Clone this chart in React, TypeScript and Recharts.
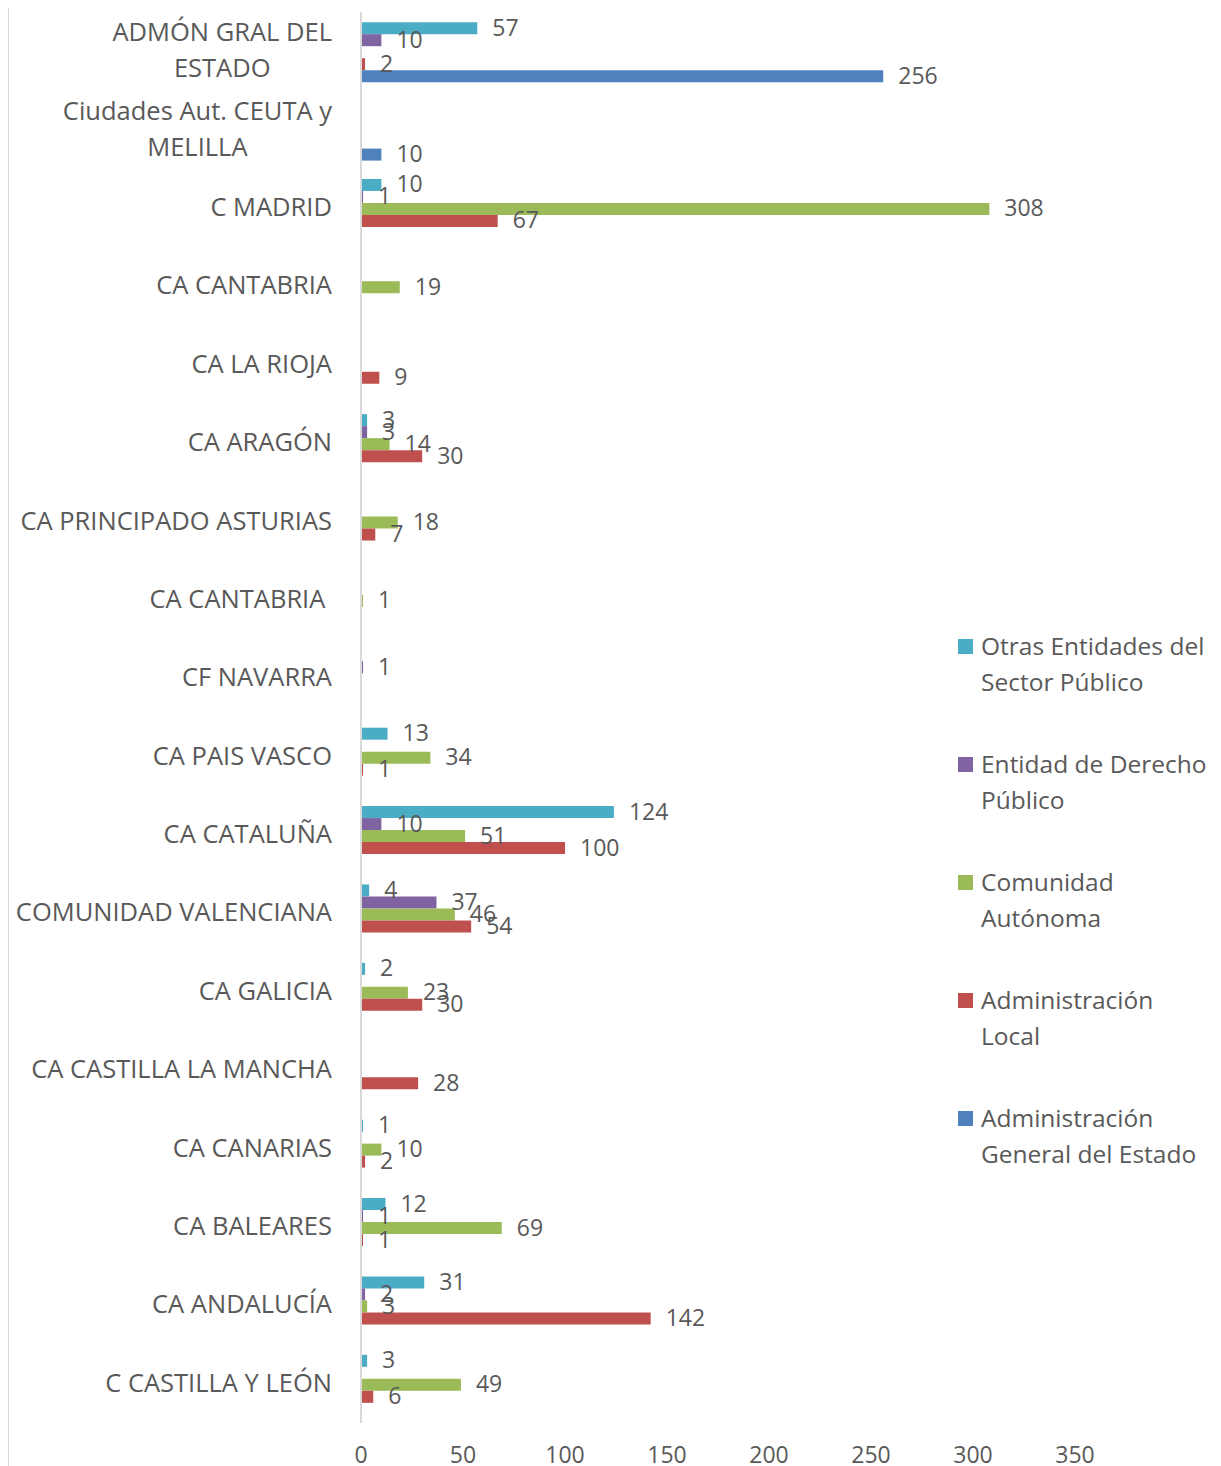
import React from 'react';
import { BarChart, Bar, XAxis, YAxis, LabelList } from 'recharts';

const categories = [
  'ADMÓN GRAL DEL\nESTADO',
  'Ciudades Aut. CEUTA y\nMELILLA',
  'C MADRID',
  'CA CANTABRIA',
  'CA LA RIOJA',
  'CA ARAGÓN',
  'CA PRINCIPADO ASTURIAS',
  'CA CANTABRIA\u00A0',
  'CF NAVARRA',
  'CA PAIS VASCO',
  'CA CATALUÑA',
  'COMUNIDAD VALENCIANA',
  'CA GALICIA',
  'CA CASTILLA LA MANCHA',
  'CA CANARIAS',
  'CA BALEARES',
  'CA ANDALUCÍA',
  'C CASTILLA Y LEÓN',
];

const otras = [57, null, 10, null, null, 3, null, null, null, 13, 124, 4, 2, null, 1, 12, 31, 3];
const entidad = [10, null, 1, null, null, 3, null, null, 1, null, 10, 37, null, null, null, 1, 2, null];
const comunidad = [null, null, 308, 19, null, 14, 18, 1, null, 34, 51, 46, 23, null, 10, 69, 3, 49];
const local = [2, null, 67, null, 9, 30, 7, null, null, 1, 100, 54, 30, 28, 2, 1, 142, 6];
const age = [256, 10, null, null, null, null, null, null, null, null, null, null, null, null, null, null, null, null];

const xTicks = [0, 50, 100, 150, 200, 250, 300, 350];

const seriesKeys = ['otras', 'entidad', 'comunidad', 'local', 'age'];
const seriesLabels = [
  'Otras Entidades del\nSector Público',
  'Entidad de Derecho\nPúblico',
  'Comunidad\nAutónoma',
  'Administración\nLocal',
  'Administración\nGeneral del Estado',
];
const seriesColors = ['#4BACC6', '#8064A2', '#9BBB59', '#C0504D', '#4F81BD'];

const data = categories.map((name, i) => ({
  name,
  otras: otras[i],
  entidad: entidad[i],
  comunidad: comunidad[i],
  local: local[i],
  age: age[i],
}));

const FONT = '"Open Sans", sans-serif';
const TEXT = '#595959';
const CAT_SIZE = 25.5;
const LEGEND_SIZE = 24.5;
const LABEL_SIZE = 23;
const LINE_H = 36;

let measureCtx: CanvasRenderingContext2D | null = null;
function measure(text: string, size: number): number {
  if (!measureCtx) measureCtx = document.createElement('canvas').getContext('2d');
  if (!measureCtx) return text.length * size * 0.55;
  measureCtx.font = `${size}px "Open Sans"`;
  return measureCtx.measureText(text).width;
}

const CategoryTick = (props: any) => {
  const { x, payload } = props;
  const y = props.y - 2;
  const lines = String(payload.value).split('\n');
  const right = x - 29;
  const n = lines.length;
  if (n === 1) {
    return (
      <text x={right} y={y} textAnchor="end" dominantBaseline="central" fill={TEXT} fontSize={CAT_SIZE} fontFamily={FONT}>
        {lines[0]}
      </text>
    );
  }
  const w = Math.max(...lines.map((l) => measure(l, CAT_SIZE)));
  const cx = right - w / 2;
  return (
    <g>
      {lines.map((l, i) => (
        <text key={i} x={cx} y={y + (i - (n - 1) / 2) * LINE_H} textAnchor="middle" dominantBaseline="central" fill={TEXT} fontSize={CAT_SIZE} fontFamily={FONT}>
          {l}
        </text>
      ))}
    </g>
  );
};

const XTick = (props: any) => {
  const { x, y, payload } = props;
  return (
    <text x={x} y={y + 31} textAnchor="middle" dominantBaseline="central" fill={TEXT} fontSize={LABEL_SIZE} fontFamily={FONT}>
      {payload.value}
    </text>
  );
};

const ValueLabel = (props: any) => {
  const vb = props.viewBox || props;
  const { x, y, width, height } = vb;
  const value = props.value;
  if (value === null || value === undefined || value === '') return null;
  return (
    <text x={x + width + 15} y={y + height / 2 - 1.5} dominantBaseline="central" fill={TEXT} fontSize={LABEL_SIZE} fontFamily={FONT}>
      {value}
    </text>
  );
};

export default function App() {
  return (
    <div style={{ position: 'relative', width: 1213, height: 1458, fontFamily: FONT }}>
      <div style={{ position: 'absolute', left: 0, top: 0, width: 1, height: 1458, background: '#d9d9d9' }} />
      <BarChart
        width={1213}
        height={1458}
        data={data}
        layout="vertical"
        margin={{ top: 4, right: 146, bottom: 0, left: 0 }}
        barCategoryGap="13%"
        barGap={0}
      >
        <XAxis
          type="number"
          domain={[0, 350]}
          ticks={xTicks}
          axisLine={false}
          tickLine={false}
          tickSize={0}
          tickMargin={0}
          height={43}
          tick={<XTick />}
          interval={0}
        />
        <YAxis
          type="category"
          dataKey="name"
          width={353}
          axisLine={{ stroke: '#d9d9d9', strokeWidth: 2 }}
          tickLine={false}
          tickSize={0}
          tickMargin={0}
          tick={<CategoryTick />}
          interval={0}
        />
        {seriesKeys.map((k, i) => (
          <Bar key={k} dataKey={k} name={seriesLabels[i]} fill={seriesColors[i]} isAnimationActive={false}>
            <LabelList dataKey={k} content={<ValueLabel />} />
          </Bar>
        ))}
      </BarChart>
      <div style={{ position: 'absolute', left: 950, top: 620 }}>
        {seriesLabels.map((label, i) => (
          <div key={i} style={{ position: 'relative', height: 118 }}>
            <div style={{ position: 'absolute', left: 0, top: 11, width: 15, height: 15, background: seriesColors[i] }} />
            <div
              style={{
                position: 'absolute',
                left: 23,
                top: 0,
                whiteSpace: 'pre',
                lineHeight: `${LINE_H}px`,
                fontSize: LEGEND_SIZE,
                color: TEXT,
                fontFamily: FONT,
              }}
            >
              {label}
            </div>
          </div>
        ))}
      </div>
    </div>
  );
}
